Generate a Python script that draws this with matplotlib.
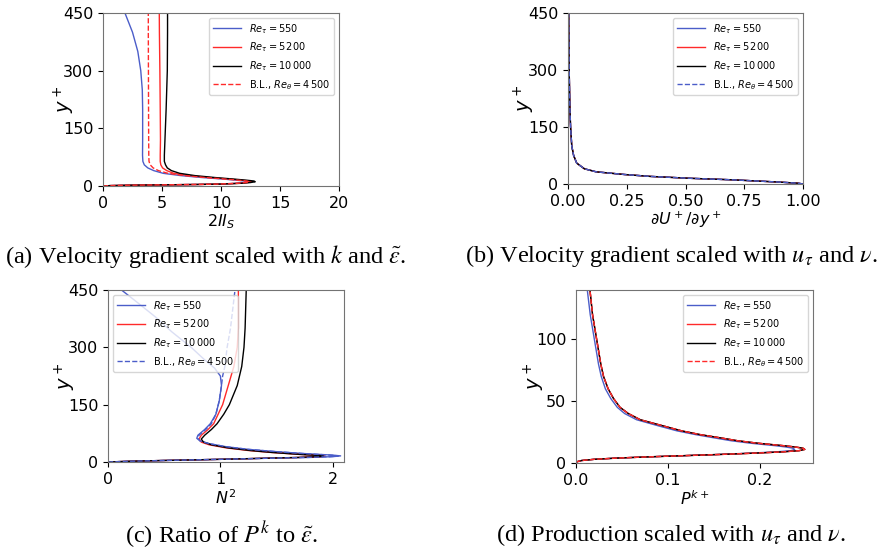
import matplotlib
matplotlib.use("Agg")
import matplotlib.pyplot as plt

# ---------------- data ----------------
labels = [r'$Re_\tau = 550$', r'$Re_\tau = 5\,200$', r'$Re_\tau = 10\,000$', r'B.L., $Re_\theta = 4\,500$']

# (a) 2 II_S
a_blue_y = [0, 1, 2, 3, 4, 5, 7, 9, 11, 13, 15, 18, 22, 27, 33, 40, 47, 55, 64, 80, 120, 200, 250, 300, 350, 400, 450]
a_blue_x = [0, 0.6, 2.2, 5.0, 8.0, 9.8, 11.3, 12.0, 12.2, 12.0, 11.3, 10.2, 8.4, 6.6, 5.1, 4.3, 3.8, 3.5, 3.38, 3.35, 3.36, 3.36, 3.33, 3.2, 2.95, 2.5, 1.86]
a_red_y = [0, 1, 2, 3, 4, 5, 7, 9, 11, 13, 15, 18, 22, 27, 33, 40, 47, 55, 64, 80, 120, 200, 300, 400, 450]
a_red_x = [0, 0.6, 2.2, 5.0, 8.0, 9.9, 11.5, 12.3, 12.6, 12.4, 11.8, 10.7, 9.0, 7.3, 6.0, 5.4, 5.05, 4.9, 4.85, 4.85, 4.87, 4.85, 4.82, 4.78, 4.77]
a_blk_y = [0, 1, 2, 3, 4, 5, 7, 9, 11, 13, 15, 18, 22, 27, 33, 40, 47, 55, 64, 80, 120, 200, 300, 400, 450]
a_blk_x = [0, 0.6, 2.2, 5.0, 8.0, 10.0, 11.7, 12.5, 12.9, 12.8, 12.2, 11.1, 9.5, 7.8, 6.5, 5.8, 5.45, 5.3, 5.2, 5.2, 5.25, 5.35, 5.45, 5.47, 5.47]
a_bl_y = [0, 1, 2, 3, 4, 5, 7, 9, 11, 13, 15, 18, 22, 27, 33, 40, 47, 55, 64, 80, 120, 200, 300, 400, 450]
a_bl_x = [0, 0.6, 2.2, 5.0, 8.0, 9.8, 11.4, 12.1, 12.4, 12.2, 11.5, 10.4, 8.7, 6.9, 5.5, 4.7, 4.25, 4.0, 3.9, 3.88, 3.87, 3.86, 3.85, 3.84, 3.84]

# (b) dU+/dy+
b_y = [0, 2, 5, 8, 11, 15, 20, 25, 32, 40, 55, 75, 100, 150, 200, 300, 450]
b_x = [1.0, 0.98, 0.9, 0.8, 0.7, 0.52, 0.35, 0.24, 0.12, 0.07, 0.037, 0.024, 0.016, 0.011, 0.008, 0.005, 0.003]

# (c) N^2
c_blue_y = [0, 2, 4, 7, 10, 12, 14, 16, 18, 22, 27, 33, 40, 48, 55, 62, 70, 85, 100, 125, 160, 200, 225, 245, 270, 300, 340, 380, 420, 450]
c_blue_x = [0, 0.2, 0.5, 1.0, 1.45, 1.8, 2.0, 2.07, 2.0, 1.75, 1.5, 1.25, 1.05, 0.9, 0.82, 0.79, 0.8, 0.86, 0.91, 0.96, 0.99, 1.01, 1.0, 0.95, 0.85, 0.74, 0.57, 0.42, 0.25, 0.12]
c_red_y = [0, 2, 4, 7, 10, 12, 14, 15, 17, 20, 25, 30, 37, 45, 52, 60, 70, 85, 100, 125, 150, 200, 250, 300, 350, 450]
c_red_x = [0, 0.2, 0.5, 1.0, 1.42, 1.7, 1.88, 1.93, 1.88, 1.7, 1.45, 1.25, 1.05, 0.9, 0.83, 0.81, 0.83, 0.89, 0.94, 0.98, 1.02, 1.07, 1.12, 1.15, 1.16, 1.16]
c_blk_y = [0, 2, 4, 7, 10, 12, 14, 15, 17, 20, 25, 30, 37, 45, 52, 60, 70, 85, 100, 125, 150, 200, 250, 300, 350, 450]
c_blk_x = [0, 0.2, 0.5, 1.0, 1.42, 1.7, 1.87, 1.92, 1.88, 1.7, 1.46, 1.27, 1.07, 0.92, 0.85, 0.83, 0.86, 0.92, 0.97, 1.03, 1.08, 1.15, 1.19, 1.21, 1.22, 1.23]
c_bl_y = [0, 2, 4, 7, 10, 12, 14, 16, 18, 22, 27, 33, 40, 48, 55, 62, 70, 85, 100, 125, 160, 200, 225, 250, 300, 350, 400, 450]
c_bl_x = [0, 0.2, 0.5, 1.0, 1.45, 1.78, 1.98, 2.05, 1.98, 1.74, 1.5, 1.25, 1.05, 0.9, 0.82, 0.8, 0.81, 0.87, 0.92, 0.96, 0.99, 1.01, 1.02, 1.04, 1.06, 1.09, 1.11, 1.13]

# (d) P^k+
d_y = [0, 1, 2, 3, 4, 5, 6, 7, 8, 9, 10, 11, 12, 13, 14, 16, 18, 20, 23, 26, 30, 35, 40, 45, 52, 60, 70, 80, 100, 120, 140]
d_red_x = [0, 0.001, 0.006, 0.02, 0.045, 0.08, 0.12, 0.16, 0.195, 0.225, 0.243, 0.249, 0.247, 0.238, 0.226, 0.198, 0.176, 0.16, 0.135, 0.115, 0.095, 0.07, 0.057, 0.048, 0.041, 0.035, 0.03, 0.027, 0.0225, 0.018, 0.0152]
d_blue_x = [0, 0.001, 0.006, 0.02, 0.045, 0.08, 0.12, 0.158, 0.19, 0.218, 0.234, 0.238, 0.236, 0.228, 0.217, 0.19, 0.169, 0.153, 0.13, 0.11, 0.09, 0.066, 0.053, 0.045, 0.038, 0.032, 0.0275, 0.0245, 0.02, 0.0155, 0.0123]

BLUE = '#4b5dc9'
RED = '#ff2a2a'
BLACK = 'black'

plt.rcParams['font.family'] = ['DejaVu Sans']
plt.rcParams['xtick.labelsize'] = 11.5
plt.rcParams['ytick.labelsize'] = 11.5
plt.rcParams['axes.labelsize'] = 11.5
plt.rcParams['axes.edgecolor'] = '0.45'

W, H = 883, 550
fig = plt.figure(figsize=(W / 100, H / 100), dpi=100)


def mk(l, r, t, b):
    return fig.add_axes([l / W, 1 - b / H, (r - l) / W, (b - t) / H])


lw = 1.0
leg_kw = dict(fontsize=7, framealpha=0.8, handlelength=2.9)
ylab_fs = 14


def ylab(ax, xpos):
    ax.set_ylabel(r'$y^+$', fontsize=ylab_fs)
    ax.yaxis.set_label_coords(xpos, 0.5)


# (a)
ax = mk(103, 339, 13, 186)
ax.plot(a_blue_x, a_blue_y, color=BLUE, lw=lw, label=labels[0])
ax.plot(a_red_x, a_red_y, color=RED, lw=lw, label=labels[1])
ax.plot(a_blk_x, a_blk_y, color=BLACK, lw=lw, label=labels[2])
ax.plot(a_bl_x, a_bl_y, color=RED, lw=lw, ls='--', label=labels[3])
ax.set_xlim(0, 20)
ax.set_ylim(0, 450)
ax.set_xticks([0, 5, 10, 15, 20])
ax.set_yticks([0, 150, 300, 450])
ax.set_xlabel(r'$2II_S$', labelpad=1)
ylab(ax, -0.11)
ax.legend(loc='upper right', **leg_kw)

# (b)
ax = mk(568, 803, 13, 184)
ax.plot(b_x, b_y, color=BLUE, lw=lw, label=labels[0])
ax.plot(b_x, b_y, color=RED, lw=lw, label=labels[1])
ax.plot(b_x, b_y, color=BLACK, lw=lw, label=labels[2])
ax.plot(b_x, b_y, color=BLUE, lw=lw, ls='--', label=labels[3])
ax.set_xlim(0, 1)
ax.set_ylim(0, 450)
ax.set_xticks([0, 0.25, 0.5, 0.75, 1.0])
ax.set_xticklabels(['0.00', '0.25', '0.50', '0.75', '1.00'])
ax.set_yticks([0, 150, 300, 450])
ax.set_xlabel(r'$\partial U^+/\partial y^+$', labelpad=1)
ylab(ax, -0.13)
ax.legend(loc='upper right', **leg_kw)

# (c)
ax = mk(108, 344, 290, 462)
ax.plot(c_blue_x, c_blue_y, color=BLUE, lw=lw, label=labels[0])
ax.plot(c_red_x, c_red_y, color=RED, lw=lw, label=labels[1])
ax.plot(c_blk_x, c_blk_y, color=BLACK, lw=lw, label=labels[2])
ax.plot(c_bl_x, c_bl_y, color=BLUE, lw=lw, ls='--', label=labels[3])
ax.set_xlim(0, 2.1)
ax.set_ylim(0, 450)
ax.set_xticks([0, 1, 2])
ax.set_yticks([0, 150, 300, 450])
ax.set_xlabel(r'$N^2$', labelpad=1)
ylab(ax, -0.127)
ax.legend(loc='upper left', **leg_kw)

# (d)
ax = mk(576, 813, 290, 463)
ax.plot(d_blue_x, d_y, color=BLUE, lw=lw, label=labels[0])
ax.plot(d_red_x, d_y, color=RED, lw=lw, label=labels[1])
ax.plot(d_red_x, d_y, color=BLACK, lw=lw, label=labels[2])
ax.plot(d_red_x, d_y, color=RED, lw=lw, ls='--', label=labels[3])
ax.set_xlim(0, 0.258)
ax.set_ylim(0, 140)
ax.set_xticks([0, 0.1, 0.2])
ax.set_xticklabels(['0.0', '0.1', '0.2'])
ax.set_yticks([0, 50, 100])
ax.set_xlabel(r'$P^{k+}$', labelpad=1)
ylab(ax, -0.122)
ax.legend(loc='upper right', **leg_kw)

cap_kw = dict(ha='center', va='center', fontsize=17.6, family='Liberation Serif', math_fontfamily='stix')
fig.text(206 / W, 1 - 256 / H, r'(a) Velocity gradient scaled with $k$ and $\tilde{\varepsilon}$.', **cap_kw)
fig.text(671 / W, 1 - 256 / H, r'(b) Velocity gradient scaled with $u_\tau$ and $\nu$.', **cap_kw)
fig.text(222 / W, 1 - 535 / H, r'(c) Ratio of $P^k$ to $\tilde{\varepsilon}$.', **cap_kw)
fig.text(671 / W, 1 - 535 / H, r'(d) Production scaled with $u_\tau$ and $\nu$.', **cap_kw)

fig.savefig('out.png', dpi=100)
